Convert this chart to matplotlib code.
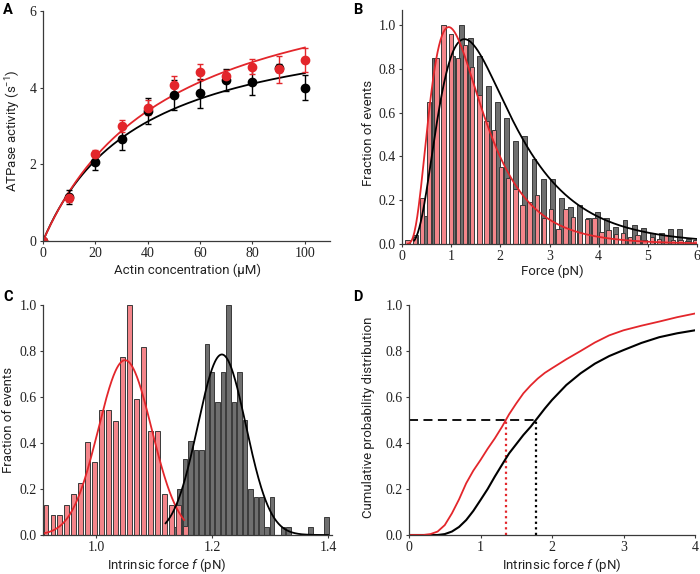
import numpy as np
import matplotlib.pyplot as plt

plt.rcParams['font.family'] = 'Liberation Serif'
plt.rcParams['mathtext.fontset'] = 'custom'
plt.rcParams['mathtext.rm'] = 'Roboto'
plt.rcParams['mathtext.it'] = 'Roboto:italic'

RED = '#e3262b'
PINK = '#f4858a'
GREY = '#6f6f6f'
EDGE = '#3a3a3a'

# A: ATPase activity vs actin
actin = [0, 10, 20, 30, 40, 50, 60, 70, 80, 90, 100]
atp_black = [0, 1.15, 2.05, 2.65, 3.39, 3.80, 3.85, 4.20, 4.15, 4.52, 4.00]
atp_black_err = [0, 0.18, 0.21, 0.28, 0.35, 0.39, 0.37, 0.28, 0.35, 0.10, 0.33]
atp_red = [0, 1.13, 2.28, 3.00, 3.48, 4.07, 4.42, 4.30, 4.55, 4.48, 4.72]
atp_red_err = [0, 0.10, 0.10, 0.16, 0.20, 0.23, 0.21, 0.15, 0.20, 0.35, 0.32]
# Michaelis-Menten fit parameters (Vmax, Km)
fit_black = (6.0, 37.0)
fit_red = (7.47, 48.0)

# B: force histograms
b_red_start, b_red_step = 0.115, 0.146
b_red = [0.02, 0.03, 0.21, 0.65, 0.85, 1.00, 0.96, 0.85, 0.91, 0.81, 0.68, 0.56,
         0.52, 0.35, 0.30, 0.25, 0.18, 0.19, 0.225, 0.12, 0.16, 0.07, 0.16, 0.125,
         0.055, 0.115, 0.12, 0.055, 0.065, 0.045, 0.05, 0.03, 0.04, 0.02, 0.03,
         0.025, 0.04, 0.02, 0.02, 0.015, 0.02]
b_grey_start, b_grey_step = 0.28, 0.185
b_grey = [0.04, 0.13, 0.85, 0.76, 0.86, 1.00, 0.94, 0.86, 0.72, 0.65, 0.574,
          0.47, 0.495, 0.39, 0.295, 0.295, 0.21, 0.17, 0.18, 0.12, 0.148, 0.117,
          0.079, 0.11, 0.087, 0.072, 0.049, 0.05, 0.07, 0.067, 0.023, 0.02]
# log-normal fits (peak height, mode, sigma, start)
lognorm_red = (0.99, 0.95, 0.55, 0.12)
lognorm_black = (0.935, 1.27, 0.57, 0.25)

# C: intrinsic force histograms
c_red_start, c_red_step = 0.9138, 0.012
c_red = [0.13, 0.087, 0.087, 0.13, 0.177, 0.225, 0.406, 0.316, 0.543, 0.543,
         0.497, 0.773, 1.0, 0.59, 0.816, 0.452, 0.452, 0.177, 0.13, 0.13, 0.04]
c_grey_start, c_grey_step = 1.1346, 0.0094
c_grey = [0.035, 0.20, 0.33, 0.41, 0.37, 0.37, 0.83, 0.71, 0.58, 0.71, 1.0,
          0.58, 0.71, 0.50, 0.20, 0.164, 0.164, 0.036, 0.164, 0, 0.036, 0.036,
          0, 0, 0, 0.036, 0, 0, 0.08]
# gaussian fits (peak, mean, sigma, xmin, xmax)
gauss_red = (0.76, 1.05, 0.046, 0.909, 1.152)
gauss_black = (0.785, 1.217, 0.0415, 1.12, 1.40)

# D: cumulative distributions
cdf_force = [0, 0.2, 0.3, 0.4, 0.5, 0.6, 0.7, 0.8, 0.9, 1.0, 1.1, 1.2, 1.3, 1.4,
             1.5, 1.6, 1.7, 1.8, 1.9, 2.0, 2.2, 2.4, 2.6, 2.8, 3.0, 3.25, 3.5,
             3.75, 4.0]
cdf_red = [0, 0.0, 0.004, 0.015, 0.043, 0.094, 0.155, 0.225, 0.28, 0.326, 0.375,
           0.42, 0.47, 0.525, 0.572, 0.616, 0.65, 0.68, 0.705, 0.725, 0.764, 0.80,
           0.837, 0.868, 0.89, 0.91, 0.928, 0.947, 0.963]
cdf_black = [0, 0.0, 0.0, 0.0, 0.004, 0.015, 0.035, 0.065, 0.105, 0.152, 0.20,
             0.254, 0.305, 0.355, 0.395, 0.435, 0.47, 0.51, 0.55, 0.587, 0.652,
             0.703, 0.745, 0.778, 0.804, 0.835, 0.86, 0.877, 0.89]
median_red = 1.35
median_black = 1.77

fig = plt.figure(figsize=(7, 5.74), dpi=100)


def px_axes(l, t, r, b):
    return fig.add_axes([l / 700, 1 - b / 574, (r - l) / 700, (b - t) / 574])


def style(ax):
    for s in ['top', 'right']:
        ax.spines[s].set_visible(False)
    for s in ['left', 'bottom']:
        ax.spines[s].set_color(EDGE)
        ax.spines[s].set_linewidth(0.9)
    ax.tick_params(direction='out', length=2.5, width=0.8, pad=2,
                   labelsize=10, color=EDGE, labelcolor='#222222')


lab = dict(fontfamily='Roboto', fontsize=9.5, color='#222222')

axA = px_axes(43, 11, 330, 241)
axB = px_axes(402, 10, 697, 244)
axC = px_axes(43, 305, 332, 535)
axD = px_axes(409, 305, 695, 535)
for ax in [axA, axB, axC, axD]:
    style(ax)

# ---- A
xx = np.linspace(0, 100, 200)
axA.plot(xx, fit_black[0] * xx / (fit_black[1] + xx), color='k', lw=1.3)
axA.plot(xx, fit_red[0] * xx / (fit_red[1] + xx), color=RED, lw=1.3)
axA.errorbar(actin, atp_black, yerr=atp_black_err, fmt='o', color='k', ms=6,
             capsize=2.5, elinewidth=1, capthick=1)
axA.errorbar(actin, atp_red, yerr=atp_red_err, fmt='o', color=RED, ms=6,
             capsize=2.5, elinewidth=1, capthick=1)
axA.set_xlim(0, 109.6)
axA.set_ylim(0, 6)
axA.set_xticks([0, 20, 40, 60, 80, 100])
axA.set_yticks([0, 2, 4, 6])
axA.set_xlabel('Actin concentration (μM)', **lab)
axA.set_ylabel(r'ATPase activity (s$^{-1}$)', **lab)
axA.xaxis.set_label_coords(0.502, -0.10)
axA.yaxis.set_label_coords(-0.07, 0.478)

# ---- B
xg = b_grey_start + b_grey_step * np.arange(len(b_grey))
xr = b_red_start + b_red_step * np.arange(len(b_red))
axB.bar(xg, b_grey, width=0.1, color=GREY, edgecolor=EDGE, linewidth=0.7)
axB.bar(xr, b_red, width=0.09, color=PINK, edgecolor=EDGE, linewidth=0.7)
for (pk, mode, sg, x0), c in [(lognorm_black, 'k'), (lognorm_red, RED)]:
    ff = np.linspace(x0, 6, 400)
    mu = np.log(mode) + sg ** 2
    shape = np.exp(-(np.log(ff) - mu) ** 2 / (2 * sg ** 2)) / ff
    top = np.exp(-(np.log(mode) - mu) ** 2 / (2 * sg ** 2)) / mode
    axB.plot(ff, pk * shape / top, color=c, lw=1.3)
axB.set_xlim(0, 6)
axB.set_ylim(0, 1.068)
axB.set_xticks(range(7))
axB.set_yticks([0, 0.2, 0.4, 0.6, 0.8, 1.0])
axB.set_yticklabels(['0.0', '0.2', '0.4', '0.6', '0.8', '1.0'])
axB.set_xlabel('Force (pN)', **lab)
axB.set_ylabel('Fraction of events', **lab)
axB.xaxis.set_label_coords(0.508, -0.088)
axB.yaxis.set_label_coords(-0.09, 0.474)

# ---- C
xg = c_grey_start + c_grey_step * np.arange(len(c_grey))
xr = c_red_start + c_red_step * np.arange(len(c_red))
axC.bar(xg, c_grey, width=0.0078, color=GREY, edgecolor=EDGE, linewidth=0.7)
axC.bar(xr, c_red, width=0.0085, color=PINK, edgecolor=EDGE, linewidth=0.7)
for (pk, m, sg, a, b), c in [(gauss_red, RED), (gauss_black, 'k')]:
    ff = np.linspace(a, b, 300)
    axC.plot(ff, pk * np.exp(-(ff - m) ** 2 / (2 * sg ** 2)), color=c, lw=1.3)
axC.set_xlim(0.9086, 1.4069)
axC.set_ylim(0, 1.0)
axC.set_xticks([1.0, 1.2, 1.4])
axC.set_xticklabels(['1.0', '1.2', '1.4'])
axC.set_yticks([0, 0.2, 0.4, 0.6, 0.8, 1.0])
axC.set_yticklabels(['0.0', '0.2', '0.4', '0.6', '0.8', '1.0'])
axC.set_xlabel(r'Intrinsic force $f$ (pN)', **lab)
axC.set_ylabel('Fraction of events', **lab)
axC.xaxis.set_label_coords(0.429, -0.09)
axC.yaxis.set_label_coords(-0.098, 0.499)

# ---- D
axD.plot([0, median_black], [0.5, 0.5], color='k', lw=1.3, dashes=(5, 3))
axD.plot([median_red, median_red], [0, 0.5], color=RED, lw=1.6, ls=(0, (1, 1.5)))
axD.plot([median_black, median_black], [0, 0.5], color='k', lw=1.6, ls=(0, (1, 1.5)))
axD.plot(cdf_force, cdf_black, color='k', lw=1.5)
axD.plot(cdf_force, cdf_red, color=RED, lw=1.3)
axD.set_xlim(0, 4)
axD.set_ylim(0, 1.0)
axD.set_xticks(range(5))
axD.set_yticks([0, 0.2, 0.4, 0.6, 0.8, 1.0])
axD.set_yticklabels(['0.0', '0.2', '0.4', '0.6', '0.8', '1.0'])
axD.set_xlabel(r'Intrinsic force $f$ (pN)', **lab)
axD.set_ylabel('Cumulative probability distribution', **lab)
axD.xaxis.set_label_coords(0.535, -0.09)
axD.yaxis.set_label_coords(-0.12, 0.513)

for letter, x, y in [('A', 3, 3), ('B', 353, 3), ('C', 3, 290), ('D', 353, 290)]:
    fig.text(x / 700, 1 - y / 574, letter, fontfamily='Roboto', fontweight='bold',
             fontsize=10.5, va='top', ha='left')

fig.savefig('out.png', dpi=100)
